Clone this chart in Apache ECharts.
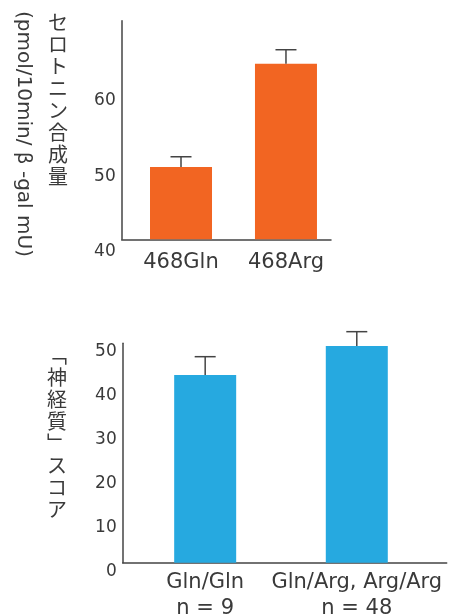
<!DOCTYPE html>
<html>
<head>
<meta charset="utf-8">
<script src="https://cdn.jsdelivr.net/npm/echarts@6/dist/echarts.min.js"></script>
<style>
html,body{margin:0;padding:0;background:#fff;}
#chart{width:452px;height:615px;}
</style>
</head>
<body>
<div id="chart"></div>
<script>
// ---- data ----
const topCategories = ['468Gln', '468Arg'];
const topValues = [49.6, 63.3];
const topErrors = [1.35, 1.85];
const topTicks = [40, 50, 60];
const topTitle = 'セロトニン合成量';
const topUnit = '(pmol/10min/ β -gal mU)';

const bottomCategories = ['Gln/Gln', 'Gln/Arg, Arg/Arg'];
const bottomN = ['n = 9', 'n = 48'];
const bottomValues = [42.8, 49.4];
const bottomErrors = [4.15, 3.25];
const bottomTicks = [0, 10, 20, 30, 40, 50];
const bottomTitle = '﹁神経質﹂スコア';

// ---- build ----
const latin = '"DejaVu Sans", sans-serif';
const cjk = '"Noto Sans CJK JP", sans-serif';
const ink = '#3a3a3a';
const axisInk = '#444';

function idxData(vals) { return vals.map((v, i) => [i, v]); }
function errData(vals, errs) { return vals.map((v, i) => [i, v, errs[i]]); }

function errRender(params, api) {
  const x = api.value(0), v = api.value(1), e = api.value(2);
  const p0 = api.coord([x, v]);
  const p1 = api.coord([x, v + e]);
  const st = { stroke: axisInk, lineWidth: 1.5 };
  return {
    type: 'group',
    children: [
      { type: 'line', shape: { x1: p0[0], y1: p0[1], x2: p1[0], y2: p1[1] }, style: st },
      { type: 'line', shape: { x1: p1[0] - 10.5, y1: p1[1], x2: p1[0] + 10.5, y2: p1[1] }, style: st }
    ]
  };
}

const chart = echarts.init(document.getElementById('chart'), null, { renderer: 'canvas' });

const axisLineStyle = { show: true, onZero: false, lineStyle: { color: axisInk, width: 1.5 } };

const option = {
  animation: false,
  backgroundColor: '#fff',
  grid: [
    { left: 121.7, top: 20.7, width: 209.3, height: 218.6, outerBoundsMode: 'none', containLabel: false },
    { left: 122.7, top: 343.3, width: 324, height: 219.4, outerBoundsMode: 'none', containLabel: false }
  ],
  xAxis: [
    {
      gridIndex: 0, type: 'value', min: -0.565, max: 1.429,
      axisLine: axisLineStyle,
      axisTick: { show: false }, splitLine: { show: false },
      axisLabel: {
        customValues: [0, 1],
        formatter: v => topCategories[Math.round(v)],
        color: ink, fontFamily: latin, fontSize: 21, margin: 13
      }
    },
    {
      gridIndex: 1, type: 'value', min: -0.544, max: 1.593,
      axisLine: axisLineStyle,
      axisTick: { show: false }, splitLine: { show: false },
      axisLabel: {
        customValues: [0, 1],
        formatter: v => bottomCategories[Math.round(v)] + '\n' + bottomN[Math.round(v)],
        color: ink, fontFamily: latin, fontSize: 21, lineHeight: 26, margin: 7
      }
    }
  ],
  yAxis: [
    {
      gridIndex: 0, type: 'value', min: 40, max: 69,
      axisLine: axisLineStyle,
      axisTick: { show: false }, splitLine: { show: false },
      axisLabel: {
        customValues: topTicks,
        color: ink, fontFamily: latin, fontSize: 17, margin: 6,
        verticalAlign: 'top', lineHeight: 25
      }
    },
    {
      gridIndex: 1, type: 'value', min: 0, max: 50,
      axisLine: axisLineStyle,
      axisTick: { show: false }, splitLine: { show: false },
      axisLabel: {
        customValues: bottomTicks,
        color: ink, fontFamily: latin, fontSize: 17, margin: 6,
        verticalAlign: 'top', lineHeight: 17
      }
    }
  ],
  series: [
    {
      type: 'bar', xAxisIndex: 0, yAxisIndex: 0, barWidth: 62,
      itemStyle: { color: '#F26522' }, data: idxData(topValues)
    },
    {
      type: 'custom', xAxisIndex: 0, yAxisIndex: 0, clip: false, z: 5,
      renderItem: errRender, encode: { x: 0, y: 1 }, data: errData(topValues, topErrors)
    },
    {
      type: 'bar', xAxisIndex: 1, yAxisIndex: 1, barWidth: 62,
      itemStyle: { color: '#26A9E0' }, data: idxData(bottomValues)
    },
    {
      type: 'custom', xAxisIndex: 1, yAxisIndex: 1, clip: false, z: 5,
      renderItem: errRender, encode: { x: 0, y: 1 }, data: errData(bottomValues, bottomErrors)
    }
  ],
  graphic: [
    {
      type: 'text', x: 58, y: 11,
      style: {
        text: topTitle.split('').join('\n'), font: '20px ' + cjk, fill: ink,
        lineHeight: 22, textAlign: 'center', textVerticalAlign: 'top'
      }
    },
    {
      type: 'text', x: 23, y: 134, rotation: -Math.PI / 2,
      style: {
        text: topUnit, font: '20px ' + latin, fill: ink,
        textAlign: 'center', textVerticalAlign: 'middle'
      }
    },
    {
      type: 'text', x: 57, y: 344,
      style: {
        text: bottomTitle.split('').join('\n'), font: '20px ' + cjk, fill: ink,
        lineHeight: 22, textAlign: 'center', textVerticalAlign: 'top'
      }
    }
  ]
};
chart.setOption(option);
</script>
</body>
</html>
